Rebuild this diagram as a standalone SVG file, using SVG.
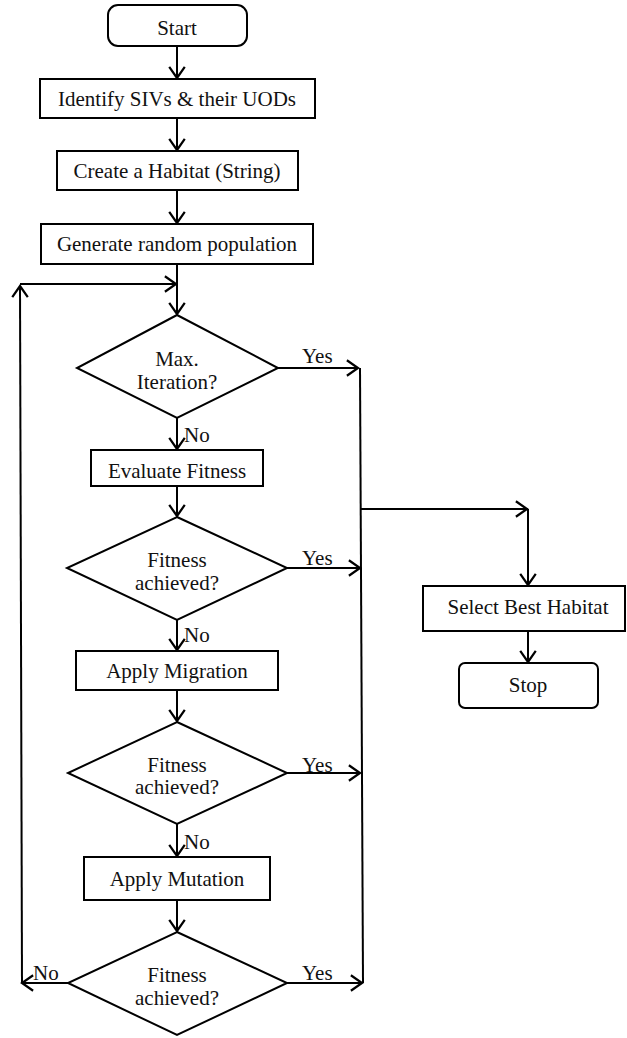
<svg xmlns="http://www.w3.org/2000/svg" width="627" height="1038" viewBox="0 0 627 1038">
<style>
.s{fill:#fff;stroke:#000;stroke-width:2}
.t{font-family:"Liberation Serif","Times New Roman",serif;font-size:21px;fill:#111;text-anchor:middle}
.l{font-family:"Liberation Serif","Times New Roman",serif;font-size:21px;fill:#111}
.c{fill:none;stroke:#000;stroke-width:2}
</style>
<defs>
<marker id="a" markerUnits="userSpaceOnUse" markerWidth="20" markerHeight="20" viewBox="-12 -9 14 18" refX="0" refY="0" orient="auto">
<path d="M-10,-7 L0,0 L-10,7" fill="none" stroke="#000" stroke-width="2"/>
</marker>
</defs>
<rect width="627" height="1038" fill="#fff"/>
<g id="connectors">
<line class="c" x1="177" y1="46" x2="177" y2="78" marker-end="url(#a)"/>
<line class="c" x1="177" y1="118" x2="177" y2="150" marker-end="url(#a)"/>
<line class="c" x1="177" y1="190" x2="177" y2="223" marker-end="url(#a)"/>
<line class="c" x1="177" y1="264" x2="177" y2="314" marker-end="url(#a)"/>
<line class="c" x1="20" y1="284" x2="176" y2="284" marker-end="url(#a)"/>
<polyline class="c" points="22,983 20,286" marker-end="url(#a)"/>
<line class="c" x1="177" y1="418" x2="177" y2="449" marker-end="url(#a)"/>
<line class="c" x1="177" y1="486" x2="177" y2="516" marker-end="url(#a)"/>
<line class="c" x1="177" y1="620" x2="177" y2="650" marker-end="url(#a)"/>
<line class="c" x1="177" y1="690" x2="177" y2="721" marker-end="url(#a)"/>
<line class="c" x1="177" y1="824" x2="177" y2="856" marker-end="url(#a)"/>
<line class="c" x1="177" y1="900" x2="177" y2="931" marker-end="url(#a)"/>
<line class="c" x1="278" y1="368" x2="358" y2="368" marker-end="url(#a)"/>
<line class="c" x1="287" y1="568" x2="360" y2="568" marker-end="url(#a)"/>
<line class="c" x1="287" y1="773" x2="360" y2="773" marker-end="url(#a)"/>
<line class="c" x1="287" y1="983" x2="362" y2="983" marker-end="url(#a)"/>
<line class="c" x1="68" y1="983" x2="22" y2="983" marker-end="url(#a)"/>
<line class="c" x1="360" y1="368" x2="363" y2="983"/>
<polyline class="c" points="361,509 528,509"/>
<line class="c" x1="361" y1="509" x2="527" y2="509" marker-end="url(#a)"/>
<line class="c" x1="528" y1="509" x2="528" y2="585" marker-end="url(#a)"/>
<line class="c" x1="528" y1="631" x2="528" y2="662" marker-end="url(#a)"/>
<text class="l" x="302" y="363">Yes</text>
<text class="l" x="302" y="565">Yes</text>
<text class="l" x="302" y="772">Yes</text>
<text class="l" x="302" y="980">Yes</text>
<text class="l" x="184" y="442">No</text>
<text class="l" x="184" y="642">No</text>
<text class="l" x="184" y="849">No</text>
<text class="l" x="33" y="980">No</text>
</g>
<g id="start"><rect class="s" x="108" y="5" width="139" height="41" rx="10"/><text class="t" x="177" y="35">Start</text></g>
<g id="identify"><rect class="s" x="40" y="79" width="275" height="39"/><text class="t" x="177" y="106">Identify SIVs &amp; their UODs</text></g>
<g id="create"><rect class="s" x="57" y="151" width="241" height="39"/><text class="t" x="177" y="178">Create a Habitat (String)</text></g>
<g id="generate"><rect class="s" x="41" y="224" width="272" height="40"/><text class="t" x="177" y="251">Generate random population</text></g>
<g id="maxiter"><polygon class="s" points="177,315 278,368 177,418 77,368"/><text class="t" x="177" y="366">Max.</text><text class="t" x="177" y="389">Iteration?</text></g>
<g id="evaluate"><rect class="s" x="91" y="450" width="172" height="36"/><text class="t" x="177" y="478">Evaluate Fitness</text></g>
<g id="fit1"><polygon class="s" points="177,517 287,568 177,620 67,568"/><text class="t" x="177" y="567">Fitness</text><text class="t" x="177" y="590">achieved?</text></g>
<g id="migration"><rect class="s" x="76" y="651" width="202" height="39"/><text class="t" x="177" y="678">Apply Migration</text></g>
<g id="fit2"><polygon class="s" points="177,722 287,773 177,824 68,773"/><text class="t" x="177" y="772">Fitness</text><text class="t" x="177" y="794">achieved?</text></g>
<g id="mutation"><rect class="s" x="84" y="857" width="186" height="43"/><text class="t" x="177" y="886">Apply Mutation</text></g>
<g id="fit3"><polygon class="s" points="177,932 287,983 177,1035 68,983"/><text class="t" x="177" y="982">Fitness</text><text class="t" x="177" y="1005">achieved?</text></g>
<g id="select"><rect class="s" x="423" y="586" width="202" height="45"/><text class="t" x="528" y="614">Select Best Habitat</text></g>
<g id="stop"><rect class="s" x="459" y="663" width="139" height="45" rx="6"/><text class="t" x="528" y="692">Stop</text></g>
</svg>
